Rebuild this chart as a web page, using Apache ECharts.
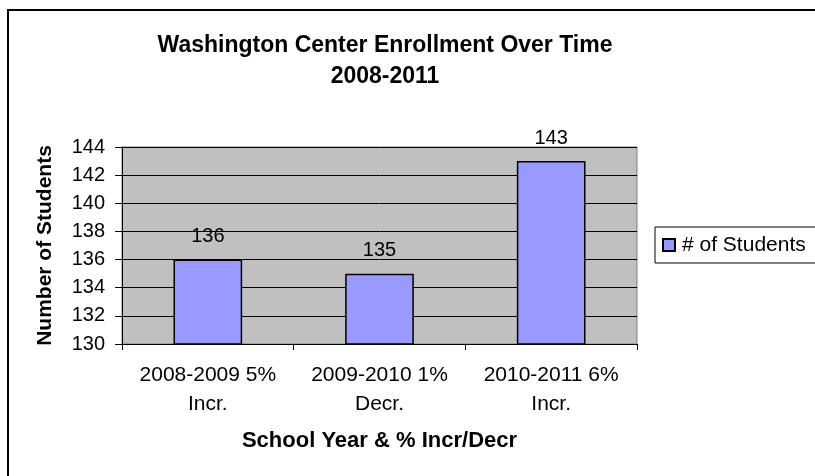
<!DOCTYPE html>
<html>
<head>
<meta charset="utf-8">
<script src="https://cdn.jsdelivr.net/npm/echarts@6/dist/echarts.min.js"></script>
<style>
  html, body { margin: 0; padding: 0; background: #fff; }
  #chart { width: 815px; height: 476px; }
</style>
</head>
<body>
<div id="chart"></div>
<script>
// 数据
var categories = ['2008-2009 5%\nIncr.', '2009-2010 1%\nDecr.', '2010-2011 6%\nIncr.'];
var students = [136, 135, 143];
var seriesName = '# of Students';
var yMin = 130, yMax = 144, yStep = 2;

var chartDom = document.getElementById('chart');
var myChart = echarts.init(chartDom);

var option = {
    animation: false,
    backgroundColor: '#ffffff',
    textStyle: { fontFamily: 'Liberation Sans, Arial, sans-serif', color: '#000' },
    title: {
        text: 'Washington Center Enrollment Over Time\n2008-2011',
        left: 380,
        top: 25,
        textAlign: 'center',
        textStyle: { fontSize: 23, fontWeight: 'bold', color: '#000', lineHeight: 31 }
    },
    graphic: [
        {
            type: 'rect',
            shape: { x: 8, y: 10, width: 830, height: 490 },
            style: { fill: 'none', stroke: '#000', lineWidth: 2 },
            silent: true
        }
    ],
    legend: {
        data: [seriesName],
        left: 655,
        top: 227,
        orient: 'vertical',
        itemWidth: 12,
        itemHeight: 12,
        itemGap: 0,
        icon: 'rect',
        borderColor: '#000',
        borderWidth: 1,
        padding: [7, 30, 7, 7],
        textStyle: { fontSize: 21, color: '#000', lineHeight: 22, padding: [0, 0, 0, 2] }
    },
    grid: {
        left: 122,
        right: 178,
        top: 147,
        bottom: 132,
        show: true,
        backgroundColor: '#c0c0c0',
        borderColor: '#808080',
        borderWidth: 1
    },
    xAxis: {
        type: 'category',
        data: categories,
        name: 'School Year & % Incr/Decr',
        nameLocation: 'middle',
        nameGap: 86,
        nameTextStyle: { fontSize: 22, fontWeight: 'bold', color: '#000' },
        axisLine: { lineStyle: { color: '#000', width: 1 } },
        axisTick: { show: true, interval: 0, length: 6, lineStyle: { color: '#000' } },
        axisLabel: { interval: 0, fontSize: 21, color: '#000', margin: 17, lineHeight: 29 }
    },
    yAxis: {
        type: 'value',
        min: yMin,
        max: yMax,
        interval: yStep,
        name: 'Number of Students',
        nameLocation: 'middle',
        nameGap: 66,
        nameRotate: 90,
        nameTextStyle: { fontSize: 21, fontWeight: 'bold', color: '#000' },
        axisLine: { show: true, lineStyle: { color: '#000', width: 1 } },
        axisTick: { show: true, length: 7, lineStyle: { color: '#000' } },
        axisLabel: { fontSize: 20, color: '#000', margin: 17 },
        splitLine: { show: true, lineStyle: { color: '#000', width: 1 } }
    },
    series: [
        {
            name: seriesName,
            type: 'bar',
            data: students,
            barWidth: '40%',
            itemStyle: { color: '#9999ff', borderColor: '#000', borderWidth: 1.5 },
            label: {
                show: true,
                position: 'top',
                distance: 13,
                fontSize: 20,
                color: '#000'
            }
        }
    ]
};

myChart.setOption(option);
</script>
</body>
</html>
